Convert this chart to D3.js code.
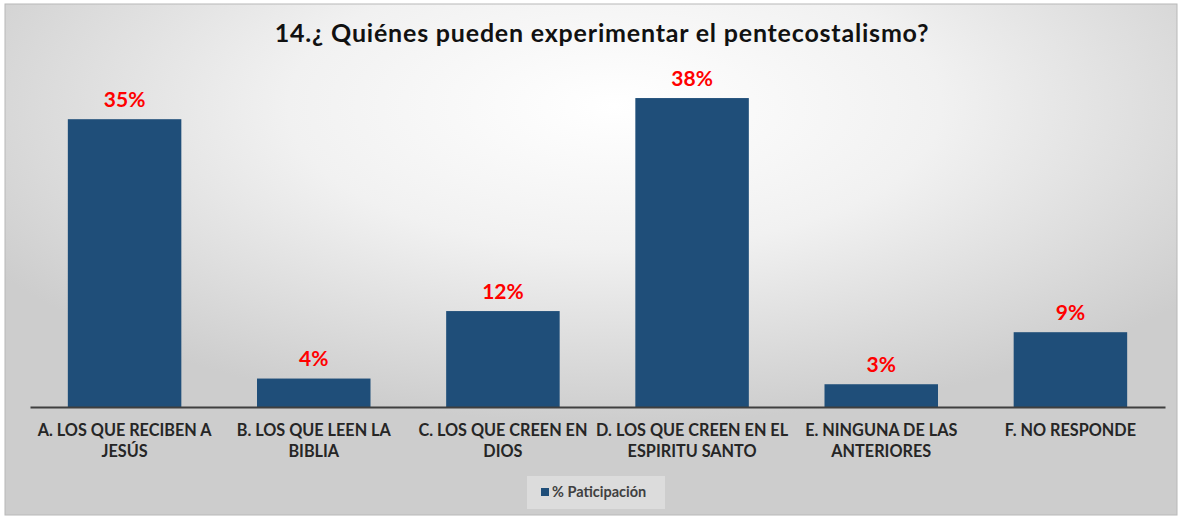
<!DOCTYPE html>
<html>
<head>
<meta charset="utf-8">
<script src="https://cdn.jsdelivr.net/npm/d3@7"></script>
<style>
  html, body { margin: 0; padding: 0; background: #ffffff; }
  svg { display: block; }
  text { font-family: Lato, "Open Sans", sans-serif; }
</style>
</head>
<body>
<div id="chart"></div>
<script>
// datos
const title = "14.¿ Quiénes pueden experimentar el pentecostalismo?";
const categories = ["A", "B", "C", "D", "E", "F"];
const tickLabels = [
    ["A. LOS QUE RECIBEN A", "JESÚS"],
    ["B. LOS QUE LEEN LA", "BIBLIA"],
    ["C. LOS QUE CREEN EN", "DIOS"],
    ["D. LOS QUE CREEN EN EL", "ESPIRITU SANTO"],
    ["E. NINGUNA DE LAS", "ANTERIORES"],
    ["F. NO RESPONDE"]
];
const participacion = [35.4, 3.5, 11.8, 38.0, 2.8, 9.2];
const seriesName = "% Paticipación";

document.addEventListener("DOMContentLoaded", function() {
    const width = 1182, height = 520;

    const svg = d3.select("#chart").append("svg")
        .attr("width", width)
        .attr("height", height);

    // fondo degradado
    const defs = svg.append("defs");
    const grad = defs.append("radialGradient")
        .attr("id", "bg")
        .attr("cx", "52%").attr("cy", "20%")
        .attr("r", "62%");
    grad.append("stop").attr("offset", "0%").attr("stop-color", "#ffffff");
    grad.append("stop").attr("offset", "45%").attr("stop-color", "#f1f1f1");
    grad.append("stop").attr("offset", "100%").attr("stop-color", "#cdcdcd");

    svg.append("rect")
        .attr("x", 5).attr("y", 4)
        .attr("width", 1172).attr("height", 511)
        .attr("fill", "url(#bg)")
        .attr("stroke", "#b8b8b8")
        .attr("stroke-width", 1);

    // escalas
    const x = d3.scaleBand()
        .domain(categories)
        .range([30, 1165])
        .paddingInner(0.4)
        .paddingOuter(0.2);

    const y = d3.scaleLinear()
        .domain([0, 40])
        .range([407, 81.8]);

    // titulo
    svg.append("text")
        .attr("x", 602)
        .attr("y", 42)
        .attr("text-anchor", "middle")
        .attr("font-size", 25)
        .attr("letter-spacing", 0.8)
        .attr("font-weight", "bold")
        .attr("fill", "#111111")
        .text(title);

    // barras
    svg.append("g").selectAll("rect")
        .data(participacion)
        .enter()
        .append("rect")
        .attr("x", (d, i) => x(categories[i]))
        .attr("y", d => y(d))
        .attr("width", x.bandwidth())
        .attr("height", d => y(0) - y(d))
        .attr("fill", "#1f4e79");

    // etiquetas de valor
    const fmt = d3.format(".0f");
    svg.append("g").selectAll("text")
        .data(participacion)
        .enter()
        .append("text")
        .attr("x", (d, i) => x(categories[i]) + x.bandwidth() / 2)
        .attr("y", d => y(d) - 12.5)
        .attr("text-anchor", "middle")
        .attr("font-size", 21)
        .attr("font-weight", "bold")
        .attr("fill", "#ff0000")
        .text(d => fmt(d) + "%");

    // eje x
    const xAxis = d3.axisBottom(x).tickSize(0).tickFormat("");
    const axisG = svg.append("g")
        .attr("transform", `translate(0,${y(0)})`)
        .call(xAxis);
    axisG.select(".domain")
        .attr("stroke", "#3f3f3f")
        .attr("stroke-width", 2);

    axisG.selectAll(".tick").each(function(d, i) {
        const t = d3.select(this).append("text")
            .attr("transform", "translate(0,29) scale(0.955,1)")
            .attr("text-anchor", "middle")
            .attr("font-size", 17)
            .attr("font-weight", "bold")
            .attr("fill", "#262626");
        tickLabels[i].forEach((line, k) => {
            t.append("tspan")
                .attr("x", 0)
                .attr("dy", k === 0 ? 0 : 21)
                .text(line);
        });
    });

    // leyenda
    const legend = svg.append("g").attr("transform", "translate(527,476)");
    legend.append("rect")
        .attr("width", 138).attr("height", 33)
        .attr("fill", "#ffffff")
        .attr("fill-opacity", 0.3);
    legend.append("rect")
        .attr("x", 14).attr("y", 12)
        .attr("width", 8).attr("height", 8)
        .attr("fill", "#1f4e79");
    legend.append("text")
        .attr("x", 25)
        .attr("y", 21)
        .attr("font-size", 14.5)
        .attr("font-weight", "bold")
        .attr("fill", "#404040")
        .text(seriesName);
});
</script>
</body>
</html>
